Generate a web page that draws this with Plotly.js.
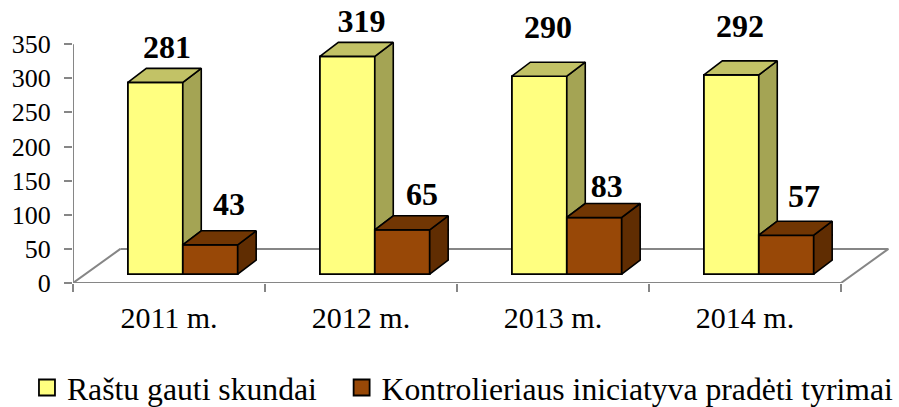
<!DOCTYPE html>
<html><head><meta charset="utf-8">
<script src="https://cdn.plot.ly/plotly-3.0.1.min.js"></script>
<style>html,body{margin:0;padding:0;background:#fff;overflow:hidden;width:899px;height:407px}#chart{width:899px;height:407px;overflow:hidden}</style></head>
<body><div id="chart"></div>
<script>
const categories = ["2011 m.", "2012 m.", "2013 m.", "2014 m."];
const seriesNames = ["Raštu gauti skundai", "Kontrolieriaus iniciatyva pradėti tyrimai"];
const complaints = [281, 319, 290, 292];
const initiative = [43, 65, 83, 57];
const yTicks = [0, 50, 100, 150, 200, 250, 300, 350];

// pseudo-3D projection settings (axis units)
const lift = 13, depthX = 0.096, depthY = 20.5, barW = 0.286, barStart = 0.286;
const floorDX = 0.247, floorDY = 50, xEnd = 4, yAxisTop = 350;
const grey = '#868686';
const serif = '"Liberation Serif","Times New Roman",serif';
const colors = {
  yf: '#FFFF80', ys: '#A4A454', yt: '#C2C266',
  bf: '#984807', bs: '#602D02', bt: '#713603'
};
const idx = categories.map((_, i) => i);
function face(xs, ys, fill) {
  return {type:'scatter', mode:'lines', x:xs.concat([xs[0]]), y:ys.concat([ys[0]]), fill:'toself',
    fillcolor:fill, line:{color:'#000', width:1.6}, cliponaxis:false, showlegend:false, hoverinfo:'skip'};
}
function rule(xs, ys) {
  return {type:'scatter', mode:'lines', x:xs, y:ys, line:{color:grey, width:2}, cliponaxis:false, showlegend:false, hoverinfo:'skip'};
}
const traces = [];
traces.push(rule([0,0],[0,yAxisTop]));
traces.push(rule([floorDX,0,xEnd,xEnd+floorDX],[floorDY,0,0,floorDY]));
traces.push({type:'bar', x:idx.map(i=>i+barStart+barW/2), y:complaints, base:lift, width:barW,
  marker:{color:colors.yf,line:{color:'#000',width:1.8}}, showlegend:false, hoverinfo:'skip'});
traces.push({type:'bar', x:idx.map(i=>i+barStart+barW*1.5), y:initiative, base:lift, width:barW,
  marker:{color:colors.bf,line:{color:'#000',width:1.8}}, showlegend:false, hoverinfo:'skip'});
idx.forEach(i => {
  const l = i+barStart, m = l+barW, r = m+barW;
  const a = complaints[i]+lift, b = initiative[i]+lift;
  traces.push(face([m,m+depthX,m+depthX,m],[a,a+depthY,b+depthY,b],colors.ys));
  traces.push(face([l,l+depthX,m+depthX,m],[a,a+depthY,a+depthY,a],colors.yt));
  traces.push(face([r,r+depthX,r+depthX,r],[b,b+depthY,lift+depthY,lift],colors.bs));
  traces.push(face([m,m+depthX,r+depthX,r],[b,b+depthY,b+depthY,b],colors.bt));
});
// data-label placement relative to each value (labels were hand-placed in the original)
const labelXA = [0.49, 0.503, 0.474, 0.474], labelLiftA = [60, 60, 80, 80];
const labelXB = [0.8125, 0.818, 0.78, 0.807], labelLiftB = [68, 61, 55, 66];
const lblFont = {family:serif, size:32, color:'#000', weight:700};
traces.push({type:'scatter', mode:'text', x:idx.map(i=>i+labelXA[i]), y:complaints.map((v,i)=>v+labelLiftA[i]),
  text:complaints.map(String), textposition:'middle center', textfont:lblFont, cliponaxis:false, showlegend:false, hoverinfo:'skip'});
traces.push({type:'scatter', mode:'text', x:idx.map(i=>i+labelXB[i]), y:initiative.map((v,i)=>v+labelLiftB[i]),
  text:initiative.map(String), textposition:'middle center', textfont:lblFont, cliponaxis:false, showlegend:false, hoverinfo:'skip'});
// legend entries
[[seriesNames[0],colors.yf,'legend'],[seriesNames[1],colors.bf,'legend2']].forEach(([n,c,lg]) => traces.push({
  type:'scatter', mode:'markers', x:[null], y:[null], name:n, legend:lg, showlegend:true,
  marker:{symbol:'square', size:16, color:c, line:{color:'#000', width:1.8}}, hoverinfo:'skip'}));

const legendBase = {orientation:'h', xref:'container', yref:'container', xanchor:'left', yanchor:'middle', y:0.047,
  font:{family:serif,size:31.7,color:'#000'}, bgcolor:'rgba(0,0,0,0)', itemclick:false, itemdoubleclick:false};
const layout = {
  width:899, height:407, paper_bgcolor:'#fff', plot_bgcolor:'rgba(0,0,0,0)',
  margin:{l:73, r:10, t:9.9, b:124, pad:0}, barmode:'overlay', hovermode:false,
  font:{family:serif, color:'#000', size:26},
  xaxis:{range:[0,4.25], showline:false, showgrid:false, zeroline:false,
    tickmode:'array', tickvals:idx.map(i=>i+0.5), ticktext:categories, ticks:'', ticklabelstandoff:14,
    tickfont:{family:serif,size:30,color:'#000'},
    minor:{ticks:'outside', tickmode:'linear', tick0:0, dtick:1, ticklen:8, tickwidth:2, tickcolor:grey, showgrid:false}},
  yaxis:{range:[0,400], showline:false, showgrid:false, zeroline:false,
    tickmode:'array', tickvals:yTicks, ticks:'outside', ticklen:8, tickwidth:2, tickcolor:grey,
    ticklabelstandoff:8, tickfont:{family:serif,size:26,color:'#000'}},
  shapes:[{type:'line', layer:'below', xref:'x', yref:'y', x0:floorDX, x1:xEnd+floorDX, y0:floorDY, y1:floorDY,
    line:{color:grey, width:2}}],
  legend:Object.assign({}, legendBase, {x:0.03}),
  legend2:Object.assign({}, legendBase, {x:0.38}),
  showlegend:true
};
Plotly.newPlot('chart', traces, layout, {displayModeBar:false, staticPlot:true});
</script></body></html>
